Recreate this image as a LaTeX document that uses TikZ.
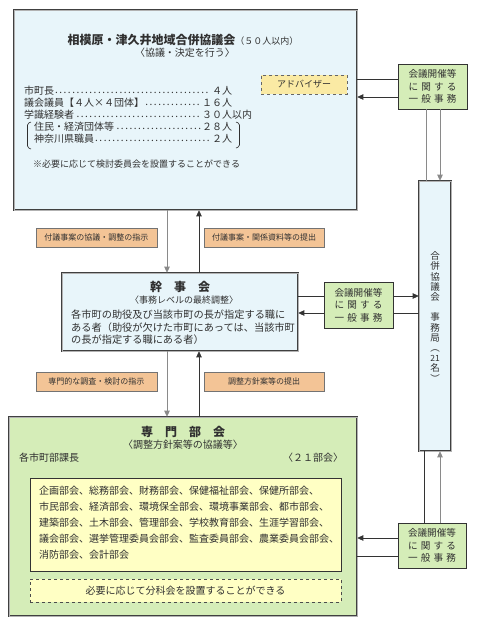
\documentclass[tikz,border=0pt]{standalone}
\usepackage{fontspec}
\setmainfont{Noto Sans CJK JP}
\usetikzlibrary{arrows.meta}
\definecolor{blueF}{HTML}{E8F5FA}
\definecolor{advF}{HTML}{FAEAA4}
\definecolor{greenF}{HTML}{D5EDB8}
\definecolor{orangeF}{HTML}{F3C496}
\definecolor{yelF}{HTML}{FFFFC4}
\definecolor{lineC}{HTML}{333333}
\definecolor{grayC}{HTML}{8A8A8A}
\definecolor{txtC}{HTML}{303030}
\newcommand\dleader{\leaders\hbox to 4.3pt{\hss\raisebox{0.15em}{.}\hss}\hfill}
\newcommand\fs[2]{\fontsize{#1}{#2}\selectfont}
\tikzset{
  dblbox/.style={draw=black!75, double=black!30, double distance=0.8pt, line width=0.6pt, inner sep=0pt},
  greenbox/.style={draw=lineC, line width=0.7pt, fill=greenF, inner sep=0pt},
  orangebox/.style={draw=black!55, line width=0.7pt, fill=orangeF, inner sep=0pt, font=\fs{8}{10}, text=txtC},
  txt/.style={inner sep=0pt, text=txtC},
  conn/.style={draw=lineC, line width=0.7pt},
  gconn/.style={draw=grayC, line width=0.8pt},
  tip/.style={-{Triangle[length=6pt,width=5.5pt]}},
}
\begin{document}
\begin{tikzpicture}[x=1pt,y=-1pt]
\useasboundingbox[fill=white] (0,0) rectangle (479,633);
% helper coordinates
\coordinate (y79) at (0,79);
\coordinate (y97) at (0,97);
\coordinate (y296) at (0,296);
\coordinate (y313) at (0,313);
\coordinate (y538) at (0,538);
\coordinate (y556) at (0,556);
\coordinate (x167) at (167,0);
\coordinate (x199) at (199,0);
\coordinate (x424) at (424,0);
\coordinate (x426) at (426,0);
\coordinate (x440) at (440,0);

% ===== main boxes =====
\node[dblbox, fill=blueF, minimum width=343, minimum height=200] (kyo) at (185.5,110) {};
\node[dblbox, fill=blueF, minimum width=236, minimum height=78] (kan) at (180,312) {};
\node[dblbox, fill=greenF, minimum width=348, minimum height=199] (sen) at (183,516.5) {};
\node[dblbox, fill=blueF, minimum width=32, minimum height=270] (jim) at (435,316) {};

% ===== top box contents =====
\node[txt] (t1) at (183,40) {{\bfseries\fs{12}{14}相模原・津久井地域合併協議会}{\fs{9}{11}（５０人以内）}};
\node[txt, font=\fs{10}{12}] (t2) at (185,53) {〈協議・決定を行う〉};
\node[draw=black!60, dashed, line width=0.6pt, fill=advF, minimum width=86, minimum height=19, inner sep=0pt, font=\fs{9}{11}, text=txtC] (adv) at (304,84.5) {アドバイザー};
\node[txt, anchor=west, font=\fs{10}{12}] (r1) at (24,91) {\makebox[208pt][l]{市町長\dleader ４人}};
\node[txt, anchor=west, font=\fs{10}{12}] (r2) at (24,103) {\makebox[208pt][l]{議会議員【４人×４団体】\dleader １６人}};
\node[txt, anchor=west, font=\fs{10}{12}] (r3) at (24,115) {\makebox[208pt][l]{学識経験者\dleader ３０人}以内};
\node[txt, anchor=west, font=\fs{10}{12}] (r4) at (34,127) {\makebox[198pt][l]{住民・経済団体等\dleader ２８人}};
\node[txt, anchor=west, font=\fs{10}{12}] (r5) at (34,139) {\makebox[198pt][l]{神奈川県職員\dleader ２人}};
\draw[draw=txtC, line width=0.6pt, rounded corners=1.5pt] (31,122) -- (27.5,123.5) -- (27.5,147.5) -- (31,149);
\draw[draw=txtC, line width=0.6pt, rounded corners=1.5pt] (236,122) -- (239.5,123.5) -- (239.5,146.5) -- (236,148);
\node[txt, anchor=west, font=\fs{9}{11}] (note1) at (33,164) {※必要に応じて検討委員会を設置することができる};

% ===== kanjikai contents =====
\node[txt] (k1) at (180,287) {\bfseries\fs{12}{14}幹　事　会};
\node[txt, font=\fs{9}{11}] (k2) at (184,300) {〈事務レベルの最終調整〉};
\node[txt, anchor=west, align=left, font=\fs{10.2}{12.5}] (k3) at (71,327.5) {各市町の助役及び当該市町の長が指定する職に\\ある者（助役が欠けた市町にあっては、当該市町\\の長が指定する職にある者）};

% ===== senmon bukai contents =====
\node[txt] (s1) at (183,432) {\bfseries\fs{12}{14}専　門　部　会};
\node[txt, font=\fs{10}{12}] (s2) at (183,445) {〈調整方針案等の協議等〉};
\node[txt, anchor=west, font=\fs{10}{12}] (s3) at (19,458) {各市町部課長};
\node[txt, anchor=west, font=\fs{10}{12}] (s4) at (283,458) {〈２１部会〉};
\node[draw=lineC, line width=0.7pt, fill=yelF, minimum width=311, minimum height=93, inner sep=0pt] (list) at (185.5,524.5) {};
\node[txt, anchor=west, align=left, font=\fs{10}{16}] (listtxt) at (39,523) {企画部会、総務部会、財務部会、保健福祉部会、保健所部会、\\市民部会、経済部会、環境保全部会、環境事業部会、都市部会、\\建築部会、土木部会、管理部会、学校教育部会、生涯学習部会、\\議会部会、選挙管理委員会部会、監査委員部会、農業委員会部会、\\消防部会、会計部会};
\node[draw=black!70, dashed, line width=0.6pt, fill=yelF, minimum width=311, minimum height=23, inner sep=0pt, font=\fs{10}{12}, text=txtC] (bunka) at (185.5,590.5) {必要に応じて分科会を設置することができる};

% ===== jimukyoku vertical text =====
\node[txt, align=center, font=\fs{9.5}{10.2}] (jimt) at (435,317) {合\\併\\協\\議\\会\\ \\事\\務\\局\\︵\\{\fs{8.5}{10.2}21}\\名\\︶};

% ===== green general-affairs boxes =====
\node[greenbox, minimum width=69, minimum height=45] (g1) at (432.5,86.5) {};
\node[greenbox, minimum width=69, minimum height=46] (g2) at (358.5,305) {};
\node[greenbox, minimum width=68, minimum height=45] (g3) at (432,545.5) {};
\foreach \g in {g1,g2,g3}{
  \node[txt, align=center, font=\fs{9.6}{12.5}] at (\g) {会議開催等\\\makebox[5em][s]{に\hfil 関\hfil す\hfil る}\\\makebox[5em][s]{一\hfil 般\hfil 事\hfil 務}};
}

% ===== orange labels =====
\node[orangebox, minimum width=121, minimum height=19] (o1) at (96.5,237.5) {付議事案の協議・調整の指示};
\node[orangebox, minimum width=120, minimum height=19] (o2) at (264,237.5) {付議事案・関係資料等の提出};
\node[orangebox, minimum width=121, minimum height=19] (o3) at (96.5,381.5) {専門的な調査・検討の指示};
\node[orangebox, minimum width=120, minimum height=19] (o4) at (264,381.5) {調整方針案等の提出};

% ===== vertical connectors between main boxes =====
\draw[gconn, tip] (kyo.south -| x167) -- (kan.north -| x167);
\draw[conn, tip] (kan.north -| x199) -- (kyo.south -| x199);
\draw[gconn, tip] (kan.south -| x167) -- (sen.north -| x167);
\draw[conn, tip] (sen.north -| x199) -- (kan.south -| x199);

% ===== right side connectors =====
\draw[conn] (g1.west |- y79) -- (kyo.east |- y79);
\draw[conn, tip] (g1.west |- y97) -- (kyo.east |- y97);
\draw[gconn] (g1.south -| x426) -- (jim.north -| x426);
\draw[gconn, tip] (g1.south -| x440) -- (jim.north -| x440);

\draw[conn] (kan.east |- y296) -- (g2.west |- y296);
\draw[conn, tip] (g2.east |- y296) -- (jim.west |- y296);
\draw[conn] (jim.west |- y313) -- (g2.east |- y313);
\draw[conn, tip] (g2.west |- y313) -- (kan.east |- y313);

\draw[conn] (g3.north -| x424) -- (jim.south -| x424);
\draw[gconn, tip] (g3.north -| x440) -- (jim.south -| x440);
\draw[conn, tip] (g3.west |- y538) -- (sen.east |- y538);
\draw[conn] (sen.east |- y556) -- (g3.west |- y556);
\end{tikzpicture}
\end{document}
